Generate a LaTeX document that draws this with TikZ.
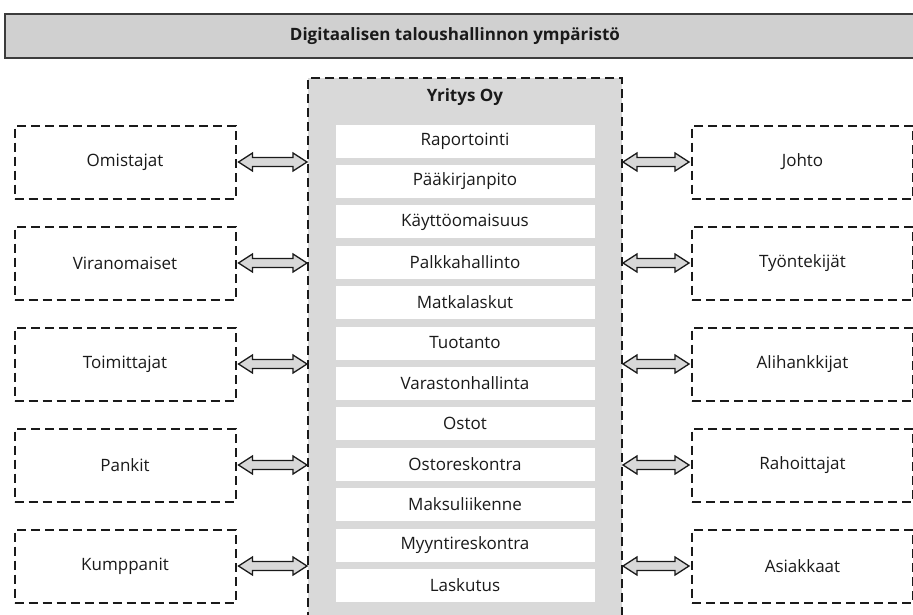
\documentclass[tikz,border=0pt]{standalone}
\usepackage{fontspec}
\setmainfont{Open Sans}
\usetikzlibrary{calc}
\definecolor{inkc}{HTML}{1A1A1A}
\definecolor{panelgray}{HTML}{D9D9D9}
\definecolor{titlegray}{HTML}{D0D0D0}
\definecolor{arrowgray}{HTML}{D8D8D8}
\tikzset{
  dashbox/.style={draw=inkc, line width=2pt, dash pattern=on 9pt off 5pt},
  outerbox/.style={dashbox, minimum width=221pt, minimum height=73pt, font=\fontsize{17}{20}\selectfont, text=inkc},
  rowbox/.style={fill=white, minimum width=259pt, minimum height=33pt, font=\fontsize{17}{20}\selectfont, text=inkc, inner sep=0pt},
  dblarrow/.style={fill=arrowgray, draw=inkc, line width=1.3pt, line join=miter,
    to path={let \p1=(\tikztostart), \p2=(\tikztotarget) in
      (\x1,\y1) -- (\x1+14pt,\y1+9pt) -- (\x1+14pt,\y1+4.5pt) -- (\x2-14pt,\y1+4.5pt) -- (\x2-14pt,\y1+9pt)
      -- (\x2,\y1) -- (\x2-14pt,\y1-9pt) -- (\x2-14pt,\y1-4.5pt) -- (\x1+14pt,\y1-4.5pt) -- (\x1+14pt,\y1-9pt) -- cycle}}
}
\begin{document}
\begin{tikzpicture}[x=1pt, y=-1pt]
\clip (0,0) rectangle (913,614);
\fill[white] (0,0) rectangle (913,614);
% title bar
\draw[fill=titlegray, draw=inkc!85, line width=2.5pt] (5,14) rectangle (940,58);
\node[font=\fontsize{17}{20}\selectfont\bfseries, text=inkc] (title) at (455,36) {Digitaalisen taloushallinnon ympäristö};
% central panel
\node[dashbox, fill=panelgray, minimum width=314pt, minimum height=560pt, anchor=north west, inner sep=0pt] (yritys) at (307,77) {};
\node[font=\fontsize{17}{20}\selectfont\bfseries, text=inkc] (yname) at (465,97) {Yritys Oy};
\foreach \t [count=\i from 0] in {Raportointi,Pääkirjanpito,Käyttöomaisuus,Palkkahallinto,Matkalaskut,Tuotanto,Varastonhallinta,Ostot,Ostoreskontra,Maksuliikenne,Myyntireskontra,Laskutus}
  \node[rowbox] (r\i) at (465,{141+40.4*\i}) {\t};
% left boxes
\foreach \t [count=\i from 0] in {Omistajat,Viranomaiset,Toimittajat,Pankit,Kumppanit}
  \node[outerbox] (l\i) at (125,{162+101*\i}) {\t};
% right boxes
\foreach \t [count=\i from 0] in {Johto,Työntekijät,Alihankkijat,Rahoittajat,Asiakkaat}
  \node[outerbox] (q\i) at (802.5,{162+101*\i}) {\t};
% arrows
\foreach \i in {0,...,4} {
  \draw[dblarrow] (l\i.east) ++(2pt,0) coordinate (la\i) (la\i) to (la\i -| yritys.west);
  \draw[dblarrow] (q\i.west) ++(-2pt,0) coordinate (ra\i) (ra\i -| yritys.east) to (ra\i);
}
\end{tikzpicture}
\end{document}
